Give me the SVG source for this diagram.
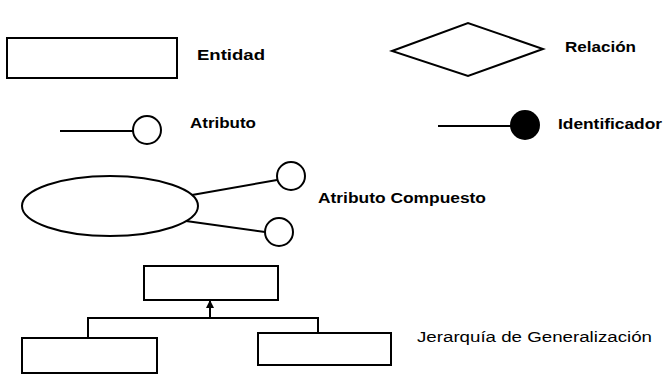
<svg xmlns="http://www.w3.org/2000/svg" width="663" height="375" viewBox="0 0 663 375">
<style>
.s{fill:none;stroke:#000;stroke-width:2}
.t{font-family:"Liberation Sans",Arial,sans-serif;font-weight:bold;fill:#000}
.r{font-family:"Liberation Sans",Arial,sans-serif;fill:#000}
</style>
<defs>
<marker id="ah" viewBox="0 0 8 8" refX="7" refY="4" markerWidth="4" markerHeight="4" orient="auto"><path d="M0,0 L8,4 L0,8 z" fill="#000"/></marker>
</defs>
<rect width="663" height="375" fill="#fff"/>
<g id="connectors">
<line class="s" x1="60" y1="131" x2="133" y2="131"/>
<line class="s" x1="438" y1="126" x2="512" y2="126"/>
<line class="s" x1="192" y1="195" x2="277" y2="180"/>
<line class="s" x1="186" y1="221" x2="265" y2="232"/>
<line class="s" x1="210" y1="318" x2="210" y2="301" marker-end="url(#ah)"/>
<polyline class="s" points="88,338 88,318 318,318 318,333"/>
</g>
<g id="entidad"><rect class="s" x="7" y="38" width="170" height="40"/></g>
<text class="t" x="197" y="60" font-size="15" textLength="68" lengthAdjust="spacingAndGlyphs">Entidad</text>
<g id="relacion"><polygon class="s" points="392,51 468,23 543,49 468,76"/></g>
<text class="t" x="565" y="52" font-size="14" textLength="71" lengthAdjust="spacingAndGlyphs">Relación</text>
<g id="atributo"><circle class="s" cx="147" cy="130" r="14"/></g>
<text class="t" x="190" y="128" font-size="14" textLength="66" lengthAdjust="spacingAndGlyphs">Atributo</text>
<g id="identificador"><circle cx="525" cy="125" r="15" fill="#000"/></g>
<text class="t" x="558" y="129" font-size="14" textLength="104" lengthAdjust="spacingAndGlyphs">Identificador</text>
<g id="compuesto">
<ellipse class="s" cx="110" cy="206" rx="88" ry="30"/>
<circle class="s" cx="291" cy="176" r="14"/>
<circle class="s" cx="279" cy="232" r="14"/>
</g>
<text class="t" x="318" y="203" font-size="14" textLength="168" lengthAdjust="spacingAndGlyphs">Atributo Compuesto</text>
<g id="gen-padre"><rect class="s" x="144" y="266" width="134" height="34"/></g>
<g id="gen-hijo1"><rect class="s" x="22" y="338" width="135" height="35"/></g>
<g id="gen-hijo2"><rect class="s" x="258" y="333" width="133" height="32"/></g>
<text class="r" x="417" y="342" font-size="14" textLength="235" lengthAdjust="spacingAndGlyphs">Jerarquía de Generalización</text>
</svg>
